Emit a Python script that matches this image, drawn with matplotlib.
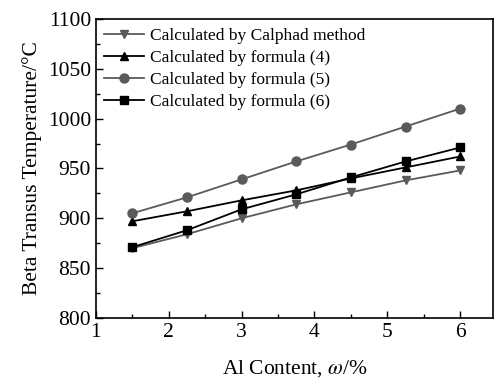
import matplotlib
matplotlib.use("Agg")
import matplotlib.pyplot as plt
from matplotlib.ticker import MultipleLocator

plt.rcParams['font.family'] = ['Liberation Serif', 'DejaVu Serif']
plt.rcParams['mathtext.fontset'] = 'stix'

al_content = [1.5, 2.25, 3.0, 3.75, 4.5, 5.25, 6.0]
calphad = [870, 884, 900, 914, 926, 938, 948]
formula4 = [897, 907, 918, 928, 940, 951, 962]
formula5 = [905, 921, 939, 957, 974, 992, 1010]
formula6 = [871, 888, 909, 924, 941, 957, 971]

fig = plt.figure(figsize=(4.99, 3.85), dpi=100)
ax = fig.add_axes([0.192, 0.174, 0.796, 0.777])

gray = '#5a5a5a'
ax.plot(al_content, calphad, color=gray, marker='v', ms=6, lw=1.3, label='Calculated by Calphad method')
ax.plot(al_content, formula4, color='black', marker='^', ms=6, lw=1.3, label='Calculated by formula (4)')
ax.plot(al_content, formula5, color=gray, marker='o', ms=6.5, lw=1.3, label='Calculated by formula (5)')
ax.plot(al_content, formula6, color='black', marker='s', ms=6, lw=1.3, label='Calculated by formula (6)')

ax.set_xlim(1, 6.45)
ax.set_ylim(800, 1100)
ax.xaxis.set_major_locator(MultipleLocator(1))
ax.xaxis.set_minor_locator(MultipleLocator(0.5))
ax.yaxis.set_major_locator(MultipleLocator(50))
ax.yaxis.set_minor_locator(MultipleLocator(25))
ax.tick_params(which='both', direction='in', top=False, right=False, labelsize=15.5)
ax.tick_params(which='major', length=5, width=1)
ax.tick_params(which='minor', length=3, width=1)
for s in ax.spines.values():
    s.set_linewidth(1.2)

ax.set_xlabel(r'Al Content, $\omega$/%', fontsize=15.5, labelpad=12)
ax.set_ylabel('Beta Transus Temperature/°C', fontsize=15.5)

ax.legend(loc='upper left', frameon=False, fontsize=12.5, handlelength=2.3,
          handletextpad=0.3, labelspacing=0.35, borderaxespad=0.3, borderpad=0.2)

fig.savefig('out.png', dpi=100)
